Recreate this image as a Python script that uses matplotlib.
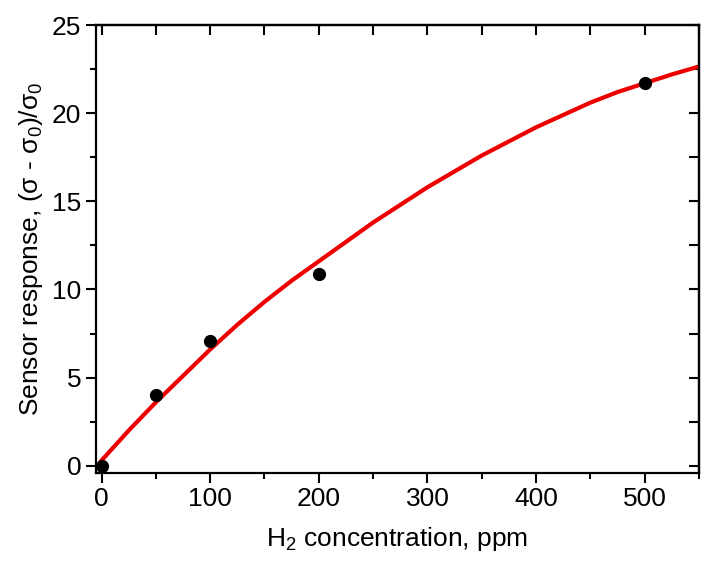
import numpy as np
import matplotlib
matplotlib.use('Agg')
import matplotlib.pyplot as plt
from matplotlib.ticker import MultipleLocator

plt.rcParams['font.family'] = ['Liberation Sans', 'DejaVu Sans']
plt.rcParams['mathtext.default'] = 'regular'
plt.rcParams['mathtext.fontset'] = 'custom'
plt.rcParams['mathtext.rm'] = 'Liberation Sans'

# measured data points
conc = [0, 50, 100, 200, 500]
response = [0.0, 4.0, 7.1, 10.9, 21.7]

# fitted curve
fit_x = [0, 25, 50, 75, 100, 125, 150, 175, 200, 225, 250, 275, 300,
         325, 350, 375, 400, 425, 450, 475, 500, 525, 550]
fit_y = [0.3, 2.0, 3.6, 5.1, 6.6, 8.0, 9.3, 10.5, 11.6, 12.7, 13.8, 14.8, 15.8,
         16.7, 17.6, 18.4, 19.2, 19.9, 20.6, 21.2, 21.7, 22.2, 22.65]

fig = plt.figure(figsize=(7.17, 5.69), dpi=100)
ax = fig.add_axes([0.134, 0.169, 0.841, 0.787])

ax.plot(fit_x, fit_y, color='#ee0000', lw=3, zorder=2)
ax.plot(conc, response, 'o', color='black', ms=8.5, zorder=3)

ax.set_xlim(-5, 550)
ax.set_ylim(-0.4, 25)
ax.xaxis.set_major_locator(MultipleLocator(100))
ax.xaxis.set_minor_locator(MultipleLocator(50))
ax.yaxis.set_major_locator(MultipleLocator(5))
ax.yaxis.set_minor_locator(MultipleLocator(2.5))
ax.tick_params(which='major', direction='out', length=7, width=1.5, labelsize=19)
ax.tick_params(which='minor', direction='out', length=4, width=1.5)
for s in ax.spines.values():
    s.set_linewidth(1.6)

# top and right inward ticks
top = ax.secondary_xaxis('top')
top.xaxis.set_major_locator(MultipleLocator(50))
top.tick_params(direction='in', length=7, width=1.5, labeltop=False)
right = ax.secondary_yaxis('right')
right.yaxis.set_major_locator(MultipleLocator(2.5))
right.tick_params(direction='in', length=7, width=1.5, labelright=False)
top.spines['top'].set_linewidth(1.6)
right.spines['right'].set_linewidth(1.6)

ax.set_xlabel('H$_2$ concentration, ppm', fontsize=19, labelpad=10)
ax.set_ylabel('Sensor response, (σ - σ$_0$)/σ$_0$', fontsize=19, labelpad=5)

fig.savefig('out.png', dpi=100)
